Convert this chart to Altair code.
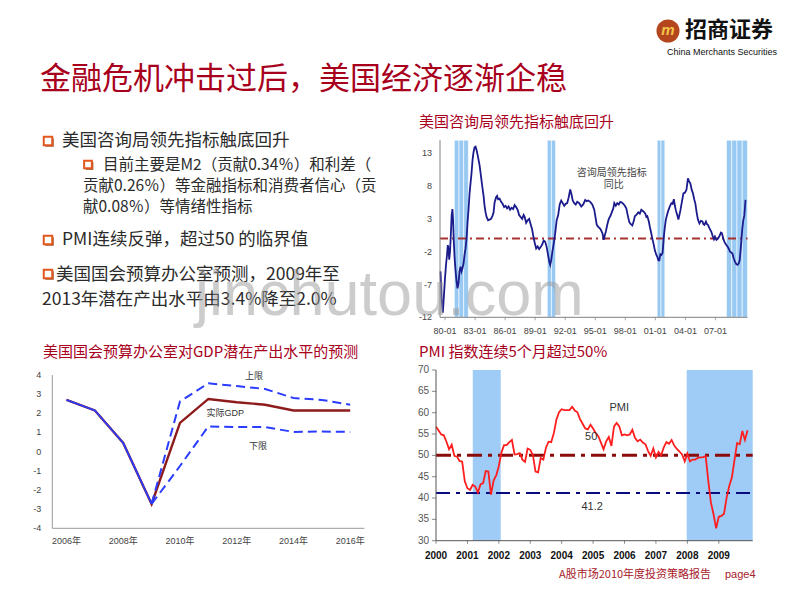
import altair as alt
import pandas as pd

# ------------------------------------------------------------------ data
# Conference Board leading index, y/y %
lei_t = [1979.55, 1979.65, 1979.78, 1979.9, 1980.0, 1980.1, 1980.2, 1980.28, 1980.35, 1980.42, 1980.5, 1980.58,
         1980.66, 1980.74, 1980.8, 1980.88, 1980.96, 1981.05, 1981.15, 1981.25, 1981.35, 1981.45, 1981.55, 1981.65,
         1981.75, 1981.85, 1981.95, 1982.05, 1982.15, 1982.25, 1982.35, 1982.45, 1982.55, 1982.65, 1982.75, 1982.85,
         1982.95, 1983.05, 1983.15, 1983.25, 1983.35, 1983.45, 1983.55, 1983.65, 1983.75, 1983.85, 1983.95, 1984.05,
         1984.15, 1984.3, 1984.45, 1984.6, 1984.75, 1984.85, 1984.95, 1985.1, 1985.2, 1985.3, 1985.45, 1985.6,
         1985.75, 1985.9, 1986.05, 1986.2, 1986.35, 1986.5, 1986.65, 1986.8, 1986.95, 1987.1, 1987.25, 1987.4,
         1987.55, 1987.7, 1987.85, 1987.95, 1988.1, 1988.25, 1988.4, 1988.55, 1988.7, 1988.8, 1988.95, 1989.1,
         1989.25, 1989.4, 1989.55, 1989.7, 1989.85, 1990.0, 1990.15, 1990.3, 1990.42, 1990.5, 1990.6, 1990.72,
         1990.85, 1991.0, 1991.15, 1991.3, 1991.45, 1991.6, 1991.75, 1991.9, 1992.05, 1992.2, 1992.35, 1992.5,
         1992.62, 1992.75, 1992.9, 1993.05, 1993.2, 1993.4, 1993.6, 1993.8, 1994.0, 1994.15, 1994.3, 1994.5,
         1994.7, 1994.9, 1995.05, 1995.15, 1995.3, 1995.5, 1995.6, 1995.72, 1995.85, 1995.95, 1996.05, 1996.2,
         1996.35, 1996.5, 1996.65, 1996.8, 1996.9, 1997.05, 1997.2, 1997.35, 1997.5, 1997.65, 1997.8, 1997.95,
         1998.1, 1998.25, 1998.4, 1998.55, 1998.7, 1998.85, 1998.95, 1999.1, 1999.3, 1999.45, 1999.6, 1999.75,
         1999.9, 2000.0, 2000.1, 2000.2, 2000.35, 2000.45, 2000.58, 2000.7, 2000.85, 2000.95, 2001.1, 2001.2,
         2001.3, 2001.4, 2001.5, 2001.6, 2001.72, 2001.85, 2001.95, 2002.05, 2002.2, 2002.3, 2002.45, 2002.6,
         2002.72, 2002.85, 2002.95, 2003.05, 2003.2, 2003.3, 2003.4, 2003.5, 2003.65, 2003.8, 2003.95, 2004.1,
         2004.2, 2004.25, 2004.35, 2004.5, 2004.62, 2004.75, 2004.88, 2005.0, 2005.12, 2005.25, 2005.4, 2005.55,
         2005.7, 2005.8, 2005.9, 2006.05, 2006.15, 2006.25, 2006.4, 2006.5, 2006.6, 2006.72, 2006.85, 2006.95,
         2007.1, 2007.25, 2007.4, 2007.55, 2007.65, 2007.78, 2007.9, 2008.05, 2008.2, 2008.35, 2008.45, 2008.58,
         2008.7, 2008.82, 2008.95, 2009.08, 2009.2, 2009.32, 2009.42, 2009.5, 2009.58, 2009.68, 2009.78, 2009.88,
         2009.95, 2010.0]
lei_v = [-5.0, -9.0, -11.3, -8.5, -6.0, -4.0, -2.5, -1.0, -1.5, -3.2, -2.0, 0.5,
         3.5, 4.5, 3.0, -0.5, -3.0, -4.8, -6.5, -7.6, -6.8, -5.0, -4.3, -5.0,
         -4.5, -3.8, -2.5, -1.5, 0.0, 2.5, 4.5, 6.8, 8.5, 10.0, 12.0, 13.2,
         13.9, 14.0, 13.5, 12.8, 12.0, 11.2, 10.0, 8.8, 7.6, 6.5, 5.0, 4.0,
         3.3, 2.8, 2.9, 3.0, 3.5, 4.0, 5.5, 6.3, 6.5, 6.0, 6.1, 5.6,
         5.3, 4.8, 5.0, 4.6, 4.9, 4.4, 4.7, 4.5, 5.1, 4.8, 4.4, 3.6,
         3.3, 3.0, 3.6, 3.3, 2.4, 2.8, 3.0, 2.2, 1.4, 0.5, -0.6, -1.5,
         -1.2, -1.6, -1.3, -0.9, -0.3, -0.5, -1.3, -2.6, -3.6, -4.0, -3.3, -2.0,
         -0.8, 0.8, 2.8, 3.6, 5.2, 5.8, 5.4, 5.0, 5.3, 5.4, 6.3, 7.5,
         6.8, 5.8, 5.4, 5.2, 5.6, 5.4, 4.9, 5.2, 5.9, 5.7, 5.8, 5.6,
         5.2, 4.4, 3.0, 2.1, 1.8, 1.5, 1.2, 0.8, -0.2, 0.5, 1.0, 2.1,
         3.0, 3.4, 4.0, 4.6, 5.4, 5.0, 5.4, 5.2, 5.6, 5.5, 5.3, 5.0,
         4.6, 3.5, 2.5, 2.2, 2.0, 2.7, 3.4, 3.6, 4.0, 3.8, 4.4, 4.2,
         4.0, 3.8, 3.3, 3.4, 2.6, 1.8, 0.9, 0.0, -1.0, -1.8, -2.5, -2.8,
         -3.3, -3.3, -2.4, -2.5, -2.2, 0.3, 1.8, 2.9, 3.8, 4.3, 4.9, 5.4,
         5.3, 6.0, 5.0, 4.3, 3.5, 2.9, 3.6, 4.3, 5.6, 6.9, 7.0, 7.4,
         8.5, 9.2, 8.8, 8.4, 7.5, 6.9, 6.0, 5.3, 4.0, 2.9, 2.3, 2.7,
         2.6, 2.2, 2.1, 2.6, 2.2, 2.1, 1.6, 1.3, 1.0, 0.4, -0.1, 0.3,
         -0.2, 0.0, 0.4, 0.9, 0.8, 0.0, -0.5, -0.9, -1.2, -1.6, -2.0, -2.1,
         -2.3, -3.0, -3.5, -3.9, -4.0, -3.8, -3.3, -2.0, -0.5, 1.5, 2.8, 3.5,
         4.8, 5.9]
lei_band_start = [1980.93, 1990.21, 2001.18, 2008.1]
lei_band_end = [1982.33, 1991.04, 2001.95, 2010.2]
lei_xticks = [1980, 1983, 1986, 1989, 1992, 1995, 1998, 2001, 2004, 2007]
lei_xlabels = ["80-01", "83-01", "86-01", "89-01", "92-01", "95-01", "98-01", "01-01", "04-01", "07-01"]
lei_yticks = [-12, -7, -2, 3, 8, 13]

# CBO potential output projection
gdp_years = [2006, 2007, 2008, 2009, 2010, 2011, 2012, 2013, 2014, 2015, 2016]
gdp_actual = [2.7, 2.15, 0.45, -2.73, 1.5, 2.75, 2.58, 2.45, 2.15, 2.15, 2.15]
gdp_hist_years = [2006, 2007, 2008, 2009]
gdp_hist = [2.7, 2.15, 0.45, -2.73]
gdp_fc_years = [2009, 2010, 2011, 2012, 2013, 2014, 2015, 2016]
gdp_upper = [-2.73, 2.62, 3.57, 3.42, 3.27, 2.8, 2.7, 2.45]
gdp_lower = [-2.73, -0.75, 1.32, 1.28, 1.28, 1.03, 1.05, 1.03]
gdp_xticks = [2006, 2008, 2010, 2012, 2014, 2016]
gdp_xlabels = ["2006年", "2008年", "2010年", "2012年", "2014年", "2016年"]
gdp_yticks = [-4, -3, -2, -1, 0, 1, 2, 3, 4]

# ISM PMI, monthly Jan-2000 .. Dec-2009
pmi_start_year = 2000
pmi_values = [56.7, 55.8, 54.9, 54.7, 53.2, 51.4, 52.5, 49.9, 49.7, 48.7, 48.5, 43.9,
              42.3, 41.9, 43.1, 42.7, 41.3, 43.2, 43.5, 46.3, 46.2, 40.8, 44.1, 45.3,
              47.5, 50.7, 52.4, 52.4, 53.1, 53.6, 50.2, 50.3, 50.5, 49.0, 48.5, 51.6,
              51.3, 50.1, 46.2, 46.0, 49.4, 49.0, 51.8, 53.2, 53.1, 55.2, 58.4, 60.1,
              60.8, 60.6, 60.6, 60.6, 61.4, 60.5, 60.1, 58.5, 57.4, 56.3, 56.1, 57.2,
              56.3, 55.2, 54.5, 53.0, 51.4, 53.3, 54.3, 52.2, 56.8, 57.6, 56.8, 54.7,
              54.9, 54.7, 54.9, 56.0, 54.1, 53.3, 53.7, 53.0, 52.6, 51.0, 49.9, 51.6,
              49.5, 50.8, 50.0, 51.9, 53.1, 52.7, 53.6, 52.3, 51.5, 50.9, 50.2, 48.6,
              50.4, 48.6, 49.0, 49.0, 49.4, 49.5, 49.6, 49.8, 44.0, 38.9, 36.2, 32.9,
              35.6, 35.8, 36.3, 40.1, 42.8, 44.8, 48.9, 52.9, 52.6, 55.7, 53.6, 55.9]
pmi_band_start = [2001.17, 2007.98]
pmi_band_end = [2002.06, 2010.08]
pmi_refs = [50, 41.2]
pmi_xticks = [2000, 2001, 2002, 2003, 2004, 2005, 2006, 2007, 2008, 2009]
pmi_xlabels = ["2000", "2001", "2002", "2003", "2004", "2005", "2006", "2007", "2008", "2009"]
pmi_yticks = [30, 35, 40, 45, 50, 55, 60, 65, 70]

# ------------------------------------------------------------------ helpers
W, H = 784, 584
OFF = 8
CJK = "Noto Sans CJK SC"
LAT = "Liberation Sans"
MIX = "Liberation Sans, Noto Sans CJK SC"
ONE = pd.DataFrame({"k": [0]})
DARKRED = "#A8001C"


def px(v):
    return v - OFF


def text_at(txt, x, y, size, color="#2b2b2b", align="left", weight="normal",
            font=CJK, opacity=1.0, baseline="middle", italic=False):
    kw = dict(text=txt, align=align, baseline=baseline, font=font, fontSize=size,
              fontWeight=weight, color=color, opacity=opacity)
    if italic:
        kw["fontStyle"] = "italic"
    return alt.Chart(ONE).mark_text(**kw).encode(x=alt.value(px(x)), y=alt.value(px(y)))


def bullet(x, y, size=72):
    shadow = alt.Chart(ONE).mark_square(size=size, color="#8a3a14", opacity=0.85).encode(
        x=alt.value(px(x) + 1.5), y=alt.value(px(y) + 1.5))
    box = alt.Chart(ONE).mark_square(size=size, fill="white", stroke="#E2571E", strokeWidth=2,
                                     opacity=1).encode(x=alt.value(px(x)), y=alt.value(px(y)))
    return shadow + box


def frame(xs, ys, xdom, ydom, xticks, xlabels, yticks, line_color, xlab_font, xlab_size,
          xlab_color, xlab_weight, xlab_pad, ylab_size, ylab_color, ylab_pad,
          xtick_len=0, ytick_len=0):
    """Axis lines, ticks and tick labels drawn through the panel's own scales."""
    parts = []
    parts.append(alt.Chart(ONE).mark_rule(color=line_color, strokeWidth=1).encode(
        x=alt.XDatum(xdom[0], scale=xs, axis=None), x2=alt.X2Datum(xdom[1]),
        y=alt.YDatum(ydom[0], scale=ys, axis=None)))
    parts.append(alt.Chart(ONE).mark_rule(color=line_color, strokeWidth=1).encode(
        x=alt.XDatum(xdom[0], scale=xs, axis=None),
        y=alt.YDatum(ydom[0], scale=ys, axis=None), y2=alt.Y2Datum(ydom[1])))
    xt = pd.DataFrame({"v": xticks, "lab": xlabels})
    yt = pd.DataFrame({"v": yticks, "lab": [str(v) for v in yticks]})
    if xtick_len:
        parts.append(alt.Chart(xt).mark_tick(orient="vertical", size=xtick_len, thickness=1,
                                             color=line_color, yOffset=xtick_len / 2).encode(
            x=alt.X("v:Q", scale=xs, axis=None), y=alt.YDatum(ydom[0], scale=ys, axis=None)))
    if ytick_len:
        parts.append(alt.Chart(yt).mark_tick(orient="horizontal", size=ytick_len, thickness=1,
                                             color=line_color, xOffset=-ytick_len / 2).encode(
            x=alt.XDatum(xdom[0], scale=xs, axis=None), y=alt.Y("v:Q", scale=ys, axis=None)))
    parts.append(alt.Chart(xt).mark_text(font=xlab_font, fontSize=xlab_size, color=xlab_color,
                                         fontWeight=xlab_weight, align="center", baseline="top",
                                         dy=xlab_pad).encode(
        x=alt.X("v:Q", scale=xs, axis=None), y=alt.YDatum(ydom[0], scale=ys, axis=None),
        text="lab:N"))
    parts.append(alt.Chart(yt).mark_text(font=LAT, fontSize=ylab_size, color=ylab_color,
                                         align="right", baseline="middle", dx=-ylab_pad).encode(
        x=alt.XDatum(xdom[0], scale=xs, axis=None), y=alt.Y("v:Q", scale=ys, axis=None),
        text="lab:N"))
    return parts


# ------------------------------------------------------------------ LEI panel
lei_df = pd.DataFrame({"t": lei_t, "v": lei_v})
stripes = []
for s, e in zip(lei_band_start, lei_band_end):
    n = max(1, round((e - s) / 0.5))
    w = (e - s) / n
    for k in range(n):
        stripes.append({"s": s + k * w, "e": s + (k + 1) * w})
lei_stripes = pd.DataFrame(stripes)

LEI_XD = [1979.5, 2010.2]
LEI_YD = [-12, 15]
lei_x = alt.Scale(domain=LEI_XD, range=[px(440), px(747.5)], nice=False, zero=False)
lei_y = alt.Scale(domain=LEI_YD, range=[px(317.3), px(140.2)], nice=False, zero=False)

lei_bands = alt.Chart(lei_stripes).mark_rect(color="#98C9F2", stroke="white", strokeWidth=0.6).encode(
    x=alt.X("s:Q", scale=lei_x, axis=None), x2="e:Q",
    y=alt.YDatum(LEI_YD[0], scale=lei_y, axis=None), y2=alt.Y2Datum(LEI_YD[1]))
lei_zero = alt.Chart(ONE).mark_rule(color="#A83232", strokeWidth=2, strokeDash=[8, 4, 2, 4]).encode(
    x=alt.XDatum(LEI_XD[0], scale=lei_x, axis=None), x2=alt.X2Datum(LEI_XD[1]),
    y=alt.YDatum(0, scale=lei_y, axis=None))
lei_line = alt.Chart(lei_df).mark_line(color="#1B1B8C", strokeWidth=1.8).encode(
    x=alt.X("t:Q", scale=lei_x, axis=None), y=alt.Y("v:Q", scale=lei_y, axis=None))
lei_lab_df = pd.DataFrame({"x": [1996.64, 1996.85], "y": [9.95, 8.1], "t": ["咨询局领先指标", "同比"]})
lei_labels = alt.Chart(lei_lab_df).mark_text(font=CJK, fontSize=10, color="#444", align="center",
                                            baseline="middle").encode(
    x=alt.X("x:Q", scale=lei_x, axis=None), y=alt.Y("y:Q", scale=lei_y, axis=None), text="t:N")
lei_frame = frame(lei_x, lei_y, LEI_XD, LEI_YD, lei_xticks, lei_xlabels, lei_yticks,
                  line_color="#808080", xlab_font=LAT, xlab_size=9, xlab_color="#444",
                  xlab_weight="normal", xlab_pad=10, ylab_size=9, ylab_color="#444", ylab_pad=8,
                  xtick_len=3)
lei_panel = alt.layer(lei_bands, lei_zero, lei_line, lei_labels, *lei_frame)

# ------------------------------------------------------------------ GDP panel
GDP_XD = [2005.5, 2016.5]
GDP_YD = [-4, 4]
gdp_x = alt.Scale(domain=GDP_XD, range=[px(52.3), px(364.4)], nice=False, zero=False)
gdp_y = alt.Scale(domain=GDP_YD, range=[px(528.3), px(375)], nice=False, zero=False)

act_df = pd.DataFrame({"yr": gdp_years, "v": gdp_actual})
hist_df = pd.DataFrame({"yr": gdp_hist_years, "v": gdp_hist})
up_df = pd.DataFrame({"yr": gdp_fc_years, "v": gdp_upper})
lo_df = pd.DataFrame({"yr": gdp_fc_years, "v": gdp_lower})

gdp_up = alt.Chart(up_df).mark_line(color="#2A3CFF", strokeWidth=2, strokeDash=[9, 5]).encode(
    x=alt.X("yr:Q", scale=gdp_x, axis=None), y=alt.Y("v:Q", scale=gdp_y, axis=None))
gdp_lo = alt.Chart(lo_df).mark_line(color="#2A3CFF", strokeWidth=2, strokeDash=[9, 5]).encode(
    x=alt.X("yr:Q", scale=gdp_x, axis=None), y=alt.Y("v:Q", scale=gdp_y, axis=None))
gdp_act = alt.Chart(act_df).mark_line(color="#8E1B1B", strokeWidth=2.4).encode(
    x=alt.X("yr:Q", scale=gdp_x, axis=None), y=alt.Y("v:Q", scale=gdp_y, axis=None))
gdp_hist_line = alt.Chart(hist_df).mark_line(color="#2A3CFF", strokeWidth=1.8).encode(
    x=alt.X("yr:Q", scale=gdp_x, axis=None), y=alt.Y("v:Q", scale=gdp_y, axis=None))
gdp_lab_df = pd.DataFrame({"x": [2012.61, 2011.6, 2012.75], "y": [3.96, 2.0, 0.29],
                           "t": ["上限", "实际GDP", "下限"]})
gdp_labels = alt.Chart(gdp_lab_df).mark_text(font=MIX, fontSize=9, color="#333", align="center",
                                            baseline="middle").encode(
    x=alt.X("x:Q", scale=gdp_x, axis=None), y=alt.Y("y:Q", scale=gdp_y, axis=None), text="t:N")
gdp_frame = frame(gdp_x, gdp_y, GDP_XD, GDP_YD, gdp_xticks, gdp_xlabels, gdp_yticks,
                  line_color="#999999", xlab_font=MIX, xlab_size=9, xlab_color="#444",
                  xlab_weight="normal", xlab_pad=9, ylab_size=9, ylab_color="#444", ylab_pad=11)
gdp_panel = alt.layer(*gdp_frame, gdp_act, gdp_up, gdp_lo, gdp_hist_line, gdp_labels)

# ------------------------------------------------------------------ PMI panel
pmi_df = pd.DataFrame({"t": [pmi_start_year + i / 12 for i in range(len(pmi_values))], "v": pmi_values})
pmi_band_df = pd.DataFrame({"s": pmi_band_start, "e": pmi_band_end})
PMI_XD = [2000, 2010.08]
PMI_YD = [30, 70]
pmi_x = alt.Scale(domain=PMI_XD, range=[px(436), px(752.7)], nice=False, zero=False)
pmi_y = alt.Scale(domain=PMI_YD, range=[px(540.7), px(370)], nice=False, zero=False)

pmi_bands = alt.Chart(pmi_band_df).mark_rect(color="#9FCCF7").encode(
    x=alt.X("s:Q", scale=pmi_x, axis=None), x2="e:Q",
    y=alt.YDatum(PMI_YD[0], scale=pmi_y, axis=None), y2=alt.Y2Datum(PMI_YD[1]))
pmi_r50 = alt.Chart(ONE).mark_rule(color="#8B0A0A", strokeWidth=3, strokeDash=[15, 6, 4, 6]).encode(
    x=alt.XDatum(PMI_XD[0], scale=pmi_x, axis=None), x2=alt.X2Datum(PMI_XD[1]),
    y=alt.YDatum(pmi_refs[0], scale=pmi_y, axis=None))
pmi_r41 = alt.Chart(ONE).mark_rule(color="#0A0A7F", strokeWidth=2, strokeDash=[14, 6, 4, 6]).encode(
    x=alt.XDatum(PMI_XD[0], scale=pmi_x, axis=None), x2=alt.X2Datum(PMI_XD[1]),
    y=alt.YDatum(pmi_refs[1], scale=pmi_y, axis=None))
pmi_line = alt.Chart(pmi_df).mark_line(color="#FF1E1E", strokeWidth=1.8).encode(
    x=alt.X("t:Q", scale=pmi_x, axis=None), y=alt.Y("v:Q", scale=pmi_y, axis=None))
pmi_lab_df = pd.DataFrame({"x": [2005.83, 2004.94, 2004.97], "y": [61.2, 54.4, 38.0],
                           "t": ["PMI", "50", "41.2"]})
pmi_labels = alt.Chart(pmi_lab_df).mark_text(font=LAT, fontSize=11, color="#333", align="center",
                                            baseline="middle").encode(
    x=alt.X("x:Q", scale=pmi_x, axis=None), y=alt.Y("y:Q", scale=pmi_y, axis=None), text="t:N")
pmi_frame = frame(pmi_x, pmi_y, PMI_XD, PMI_YD, pmi_xticks, pmi_xlabels, pmi_yticks,
                  line_color="#555555", xlab_font=LAT, xlab_size=10, xlab_color="#111",
                  xlab_weight="bold", xlab_pad=10, ylab_size=10, ylab_color="#555", ylab_pad=7,
                  xtick_len=3, ytick_len=4)
pmi_panel = alt.layer(pmi_bands, pmi_r50, pmi_r41, pmi_line, pmi_labels, *pmi_frame)

# ------------------------------------------------------------------ slide texts
logo_ball = alt.Chart(ONE).mark_circle(size=530, color="#B4461E", opacity=1).encode(
    x=alt.value(px(668)), y=alt.value(px(31)))
logo_glyph = text_at("m", 668, 30, 15, color="#F3C34A", align="center", weight="bold",
                     font=LAT, italic=True)
texts = [
    logo_ball, logo_glyph,
    text_at("招商证券", 685, 30, 22, color="#111", weight="bold"),
    text_at("China Merchants Securities", 667, 51.5, 9, color="#111", font=LAT),
    text_at("金融危机冲击过后，美国经济逐渐企稳", 40, 80, 31, color=DARKRED),
    bullet(48, 141), text_at("美国咨询局领先指标触底回升", 62, 140.5, 17.5),
    bullet(88, 164.5, 60), text_at("目前主要是M2（贡献0.34％）和利差（", 103, 165, 15.5),
    text_at("贡献0.26％）等金融指标和消费者信心（贡", 83, 186, 15.5),
    text_at("献0.08％）等情绪性指标", 83, 207, 15.5),
    bullet(48, 240), text_at("PMI连续反弹，超过50 的临界值", 62, 240, 17.5),
    bullet(48, 274), text_at("美国国会预算办公室预测，2009年至", 56, 274.5, 17.5),
    text_at("2013年潜在产出水平由3.4%降至2.0%", 42, 299.5, 17.5),
    text_at("美国咨询局领先指标触底回升", 419, 122, 15, color=DARKRED),
    text_at("美国国会预算办公室对GDP潜在产出水平的预测", 43, 352, 15, color=DARKRED),
    text_at("PMI 指数连续5个月超过50%", 419, 352, 15, color=DARKRED),
    text_at("A股市场2010年度投资策略报告", 559, 575, 11, color="#A8202A"),
    text_at("page4", 725, 575, 11, color="#A8202A", font=LAT),
]
watermark = text_at("jinchutou.com", 195, 315, 63, color="#9a9a9a", font=LAT,
                    opacity=0.5, baseline="alphabetic")

chart = alt.layer(lei_panel, gdp_panel, pmi_panel, *texts, watermark).resolve_scale(
    x="independent", y="independent"
).properties(width=W, height=H, padding=0, background="white").configure_view(strokeWidth=0)

chart.save("out.html", embed_options={"renderer": "svg", "actions": False})
